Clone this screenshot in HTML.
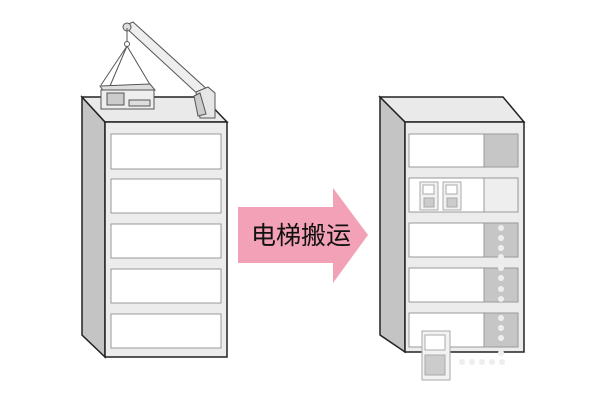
<!DOCTYPE html><html><head><meta charset="utf-8"><style>body{margin:0;background:#fff}</style></head><body>
<svg width="600" height="400" xmlns="http://www.w3.org/2000/svg" style="display:block">
<g stroke="#222" stroke-width="1.5">
<polygon points="82,97 105,122 105,357 82,335" fill="#c4c4c4"/>
<polygon points="82,97 203,97 227,122 105,122" fill="#eaeaea"/>
<rect x="105" y="122" width="122" height="235" fill="#ececec"/>
</g>
<g fill="#fff" stroke="#999" stroke-width="1">
<rect x="111" y="134" width="110" height="35"/><rect x="111" y="179" width="110" height="34"/>
<rect x="111" y="224" width="110" height="34"/><rect x="111" y="269" width="110" height="34"/>
<rect x="111" y="314" width="110" height="34"/>
</g>
<g stroke="#555" stroke-width="1" fill="#eee">
<polygon points="124,26 133,22 210,92 202,98"/>
<circle cx="127" cy="27" r="4" fill="#ddd"/>
<line x1="127" y1="28" x2="127" y2="42"/><circle cx="127" cy="44" r="2.5" fill="none"/>
<line x1="127" y1="46" x2="101" y2="85" fill="none"/><line x1="127" y1="46" x2="152" y2="88" fill="none"/>
<line x1="127" y1="46" x2="110" y2="86" fill="none"/>
<polygon points="100,86 150,84 155,90 104,92" fill="#ddd"/>
<rect x="101" y="90" width="53" height="19" fill="#eee"/>
<rect x="107" y="93" width="17" height="12" fill="#ccc"/>
<rect x="129" y="100" width="21" height="6" fill="#ddd"/>
<polygon points="196,92 208,87 215,93 215,118 200,118" fill="#e6e6e6"/>
<polygon points="194,96 200,93 206,114 198,116" fill="#ccc"/>
</g>
<polygon points="238,207 333,207 333,188 368,235 333,283 333,263 238,263" fill="#f2a1b6"/>
<text x="301" y="244" font-size="25" text-anchor="middle" font-family="'Liberation Sans','Noto Sans CJK SC',sans-serif" fill="#111">电梯搬运</text>
<g stroke="#222" stroke-width="1.5">
<polygon points="380,97 405,122 405,352 380,335" fill="#c4c4c4"/>
<polygon points="380,97 503,97 524,122 405,122" fill="#eaeaea"/>
<rect x="405" y="122" width="119" height="230" fill="#ececec"/>
</g>
<g stroke="#999" stroke-width="1">
<rect x="409" y="134" width="75" height="33" fill="#fff"/><rect x="484" y="134" width="34" height="33" fill="#c6c6c6"/>
<rect x="409" y="178" width="75" height="34" fill="#fff"/><rect x="484" y="178" width="34" height="34" fill="#eee"/>
<rect x="409" y="223" width="75" height="34" fill="#fff"/><rect x="484" y="223" width="34" height="34" fill="#c6c6c6"/>
<rect x="409" y="268" width="75" height="34" fill="#fff"/><rect x="484" y="268" width="34" height="34" fill="#c6c6c6"/>
<rect x="409" y="313" width="75" height="34" fill="#fff"/><rect x="484" y="313" width="34" height="34" fill="#c6c6c6"/>
</g>
<g fill="#eee">
<circle cx="501" cy="228" r="3"/><circle cx="501" cy="238" r="3"/><circle cx="501" cy="248" r="3"/><circle cx="501" cy="257" r="3"/>
<circle cx="501" cy="268" r="3"/><circle cx="501" cy="278" r="3"/><circle cx="501" cy="289" r="3"/><circle cx="501" cy="299" r="3"/>
<circle cx="501" cy="318" r="3"/><circle cx="501" cy="328" r="3"/><circle cx="501" cy="338" r="3"/><circle cx="501" cy="353" r="3"/>
<circle cx="462" cy="362" r="3"/><circle cx="472" cy="362" r="3"/><circle cx="482" cy="362" r="3"/><circle cx="492" cy="362" r="3"/><circle cx="502" cy="362" r="3"/>
</g>
<g stroke="#aaa" stroke-width="1" fill="#f2f2f2">
<rect x="420" y="182" width="18" height="28"/><rect x="423" y="185" width="11" height="9" fill="#fff"/><rect x="424" y="198" width="10" height="9" fill="#ccc"/>
<rect x="443" y="182" width="18" height="28"/><rect x="446" y="185" width="11" height="9" fill="#fff"/><rect x="447" y="198" width="10" height="9" fill="#ccc"/>
<rect x="422" y="331" width="28" height="49"/><rect x="425" y="335" width="20" height="15" fill="#fff"/><rect x="425" y="355" width="20" height="20" fill="#ccc"/>
</g>
</svg>
</body></html>
